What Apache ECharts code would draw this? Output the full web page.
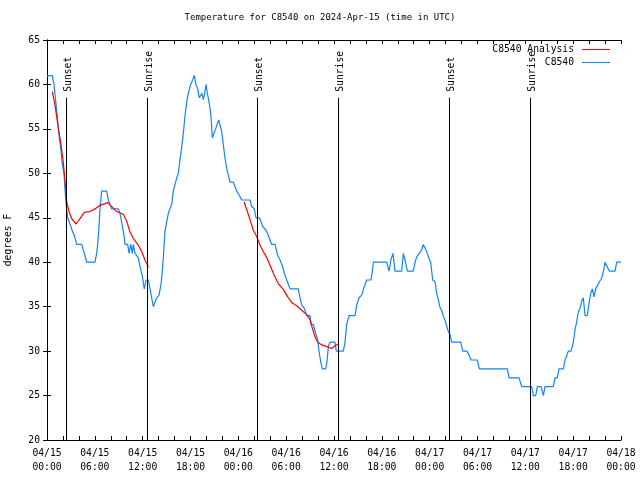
<!DOCTYPE html>
<html><head><meta charset="utf-8">
<script src="https://cdn.jsdelivr.net/npm/echarts@6/dist/echarts.min.js"></script>
<style>html,body{margin:0;padding:0;background:#fff}#c{width:640px;height:480px}</style>
</head><body><div id="c"></div>
<script>
const FONT = '"DejaVu Sans Mono", "Liberation Mono", monospace';

// hours since 2024-04-15 00:00 UTC
const blueHours = [0,0.66,0.88,1.22,1.42,1.54,1.76,1.92,2.13,2.35,2.47,2.6,2.85,3.01,3.17,3.42,3.73,4.35,4.68,4.98,6.02,6.23,6.36,6.52,6.65,6.86,7.49,7.69,7.9,8.12,8.94,9.16,9.37,9.66,9.78,10.12,10.29,10.5,10.7,10.83,11.04,11.45,11.67,11.95,12.2,12.42,12.71,12.92,13.13,13.33,13.55,13.76,14.05,14.3,14.46,14.59,14.8,15.01,15.22,15.43,15.64,15.84,16.06,16.27,16.47,16.68,16.9,17.1,17.31,17.52,17.72,18.02,18.27,18.48,18.69,18.9,19.1,19.28,19.44,19.61,19.78,19.95,20.11,20.23,20.45,20.57,20.74,20.95,21.16,21.36,21.54,21.7,21.91,22.12,22.33,22.54,22.74,22.96,23.37,23.58,23.8,24.13,24.42,25.46,25.67,26.0,26.22,26.63,26.84,27.06,27.47,27.77,28.18,28.6,28.93,29.23,29.52,29.77,30.07,30.27,30.48,31.52,31.74,31.95,32.28,32.58,32.99,33.12,33.4,33.7,33.96,34.12,34.33,34.54,34.96,35.12,35.29,35.5,36.13,36.29,36.54,37.17,37.38,37.59,37.88,38.64,38.85,39.14,39.48,39.8,40.1,40.64,40.81,40.93,42.61,42.9,43.15,43.4,43.65,44.49,44.7,44.9,45.2,45.95,46.16,46.38,46.79,47.0,47.2,47.42,47.63,47.83,48.13,48.38,48.67,48.88,49.08,49.3,49.5,49.71,49.92,50.14,50.34,50.55,50.76,51.89,52.15,52.65,52.93,53.19,53.98,54.23,57.74,57.95,59.2,59.55,60.8,61.0,61.3,61.5,61.97,62.26,62.47,63.51,63.72,64.01,64.22,64.77,64.98,65.2,65.4,65.73,66.02,66.23,66.44,66.64,66.86,67.07,67.27,67.49,67.77,67.99,68.2,68.4,68.62,68.83,69.08,69.29,69.58,69.79,70.0,70.25,70.53,71.25,71.46,72];
const blueTemps = [61,61,60,57,55,54,52.5,51,50,47,46,45,45,44,43.5,43,42,42,41,40,40,41,42,44,46,48,48,47,47,46,46,45.5,44.5,43,42,42,41,42,41,42,41,40.5,39.5,38.5,37,38,38,37,36,35,35,36,36.3,37.5,39,40.5,43.5,44.5,45.5,46,46.5,48,48,49.5,50,51.5,53,54.5,56.5,58,59,60,60.5,61,60,59.5,58.5,58.3,59,58.3,59,60,59,58.5,57.3,56.4,54,54,55,55.6,56,56,54.7,53.2,51.7,50.6,49.8,49,49,48.5,48,47.5,47,47,46.3,46,45,45,44.6,44,43.6,43,42,42,40.8,40.25,39.6,38.75,38,38,37,37,36,35.2,34.8,34,34,33,33,32,31.25,30,28.8,28,28,28.8,30.5,31,31,30,30,30,31,33,34,34,35.2,36,36.3,37.25,38,38,39,40,40,39,40.3,41,39,39,41,40.3,39,39,40,40.6,41.1,41.4,42,42,41.2,40.6,40,38,37.8,36.5,35.8,34.9,34.6,33.9,33.5,32.8,32.2,31.9,31,31,30,30,29.6,29,29,28,28,27,27,26,26,25,25,26,26,25,26,26,27,27,28,28,29,29,30,30,31,32.4,33.3,34.4,34.8,35.6,36,34,34,35.4,36.5,37,36.1,37,37.1,37.8,38.2,39,40,40,39,39,40,40];

const analysisHours1 = [0.66,1.0,1.42,1.76,2.04,2.26,2.47,2.76,3.1,3.64,4.14,4.68,5.39,6.02,6.65,7.61,8.12,8.74,9.57,10.0,10.41,10.83,11.45,11.88,12.29,12.71];
const analysisTemps1 = [59.2,57.7,55.1,53.2,51.3,49.1,46.8,45.7,44.9,44.3,44.9,45.6,45.7,46,46.4,46.7,46.25,45.7,45.4,44.6,43.4,42.7,41.9,41.2,40.25,39.5];
const analysisHours2 = [24.71,25.13,25.46,25.88,26.3,26.72,27.13,27.63,28.06,28.47,29.01,29.64,30.19,30.77,31.32,31.95,32.58,33.0,33.28,33.62,33.96,34.46,35.09,35.71,36.13,36.54];
const analysisTemps2 = [46.8,45.7,44.8,43.6,42.9,41.9,41.2,40.4,39.5,38.6,37.6,36.95,36.1,35.4,35.1,34.6,34.1,33.5,32.6,31.6,31.0,30.7,30.5,30.3,30.6,30.8];

const sunHours = [2.34,12.59,26.38,36.54,50.47,60.63];
const sunLabels = ['Sunset','Sunrise','Sunset','Sunrise','Sunset','Sunrise'];
const sunLineTop = 58.5;

const titleText = 'Temperature for C8540 on 2024-Apr-15 (time in UTC)';
const yTitle = 'degrees F';

function zip(a, b) { return a.map((v, i) => [v, b[i]]); }
function fmtX(h) {
  const d = 15 + Math.floor(h / 24), hh = h % 24;
  return '04/' + d + '\n' + (hh < 10 ? '0' : '') + hh + ':00';
}

const chart = echarts.init(document.getElementById('c'), null, {renderer: 'canvas'});
const axisCommon = {
  axisLine: {show: true, lineStyle: {color: '#000', width: 1}},
  axisTick: {show: true, inside: true, length: 4, lineStyle: {color: '#000'}},
  splitLine: {show: false}
};
chart.setOption({
  animation: false,
  backgroundColor: '#fff',
  title: {
    text: titleText, left: 'center', top: 13, padding: 0,
    textStyle: {fontFamily: FONT, fontSize: 9, fontWeight: 'normal', color: '#000', lineHeight: 10}
  },
  legend: {
    orient: 'vertical', right: 30, top: 43, align: 'right', padding: 0,
    itemWidth: 28, itemHeight: 1, itemGap: 0, icon: 'rect',
    textStyle: {fontFamily: FONT, fontSize: 9.7, color: '#000', lineHeight: 13, padding: [0, 3, 0, 0]},
    data: ['C8540 Analysis', 'C8540']
  },
  grid: {left: 47, right: 19, top: 40, bottom: 40, outerBoundsMode: 'none', containLabel: false},
  xAxis: [
    Object.assign({}, axisCommon, {
      type: 'value', min: 0, max: 72, interval: 2, position: 'bottom',
      axisLabel: {
        show: true, margin: 6, color: '#000', fontFamily: FONT, fontSize: 9.7, lineHeight: 14,
        showMinLabel: true, showMaxLabel: true, hideOverlap: false,
        formatter: v => (v % 6 === 0 ? fmtX(v) : '')
      }
    }),
    Object.assign({}, axisCommon, {
      type: 'value', min: 0, max: 72, interval: 2, position: 'top', axisLabel: {show: false}
    })
  ],
  yAxis: [
    Object.assign({}, axisCommon, {
      type: 'value', min: 20, max: 65, interval: 5, position: 'left',
      name: yTitle, nameLocation: 'middle', nameRotate: 90, nameGap: 34,
      nameTextStyle: {fontFamily: FONT, fontSize: 9.7, color: '#000'},
      axisLabel: {show: true, margin: 7, color: '#000', fontFamily: FONT, fontSize: 9.7,
        showMinLabel: true, showMaxLabel: true}
    }),
    Object.assign({}, axisCommon, {
      type: 'value', min: 20, max: 65, interval: 5, position: 'right', axisLabel: {show: false}
    })
  ],
  series: [
    {
      name: 'C8540 Analysis', type: 'line', data: zip(analysisHours1, analysisTemps1),
      showSymbol: false, symbol: 'none', color: '#ff0000', lineStyle: {width: 1.2, color: '#ff0000'}, z: 3
    },
    {
      name: 'C8540 Analysis', type: 'line', data: zip(analysisHours2, analysisTemps2),
      showSymbol: false, symbol: 'none', color: '#ff0000', lineStyle: {width: 1.2, color: '#ff0000'}, z: 3
    },
    {
      name: 'C8540', type: 'line', data: zip(blueHours, blueTemps),
      showSymbol: false, symbol: 'none', color: '#0f84ff', lineStyle: {width: 1.2, color: '#0f84ff'}, z: 2
    },
    {
      name: 'sun', type: 'custom', z: 4,
      data: sunHours.map((h, i) => [h, sunLineTop, i]),
      encode: {x: 0, y: 1},
      renderItem: function (params, api) {
        const h = api.value(0);
        const top = api.coord([h, sunLineTop]);
        const bot = api.coord([h, 20]);
        const x = Math.round(top[0]) + 0.5;
        return {
          type: 'group',
          children: [
            {type: 'line', shape: {x1: x, y1: top[1], x2: x, y2: bot[1]},
             style: {stroke: '#000', lineWidth: 1}},
            {type: 'text', x: x + 1.5, y: top[1] - 6, rotation: Math.PI / 2,
             style: {text: sunLabels[api.value(2)], align: 'left', verticalAlign: 'middle',
               fontFamily: FONT, fontSize: 9.7, fill: '#000'}}
          ]
        };
      }
    }
  ]
});
</script>
</body></html>
